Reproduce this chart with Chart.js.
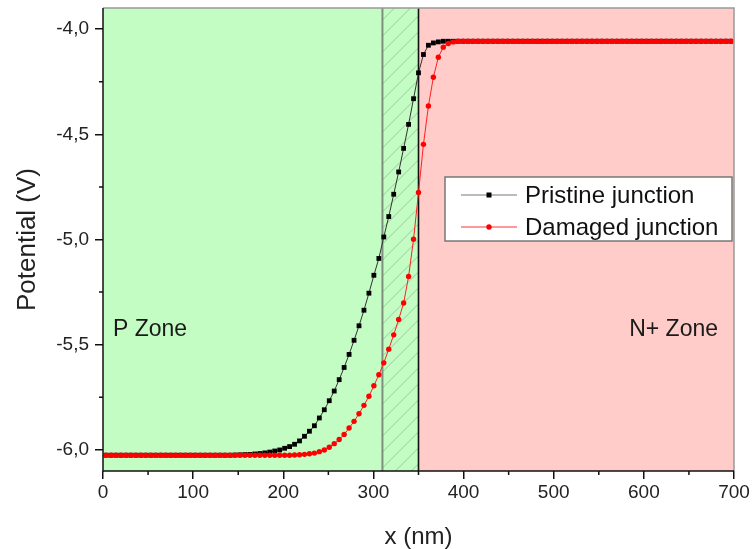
<!DOCTYPE html>
<html>
<head>
<meta charset="utf-8">
<script src="https://cdn.jsdelivr.net/npm/chart.js@4.4.1/dist/chart.umd.min.js"></script>
<style>
  html, body { margin: 0; padding: 0; background: #fff; }
  #wrap { width: 752px; height: 549px; }
</style>
</head>
<body>
<div id="wrap"><canvas id="potentialChart" width="752" height="549"></canvas></div>
<script>
const seriesNames = ["Pristine junction", "Damaged junction"];
const zoneNames = ["P Zone", "N+ Zone"];

// sampling grid of the simulation (nm)
const xStart = 3.5;
const xStep = 5.5;

// potential (V) at each sample
const pristine = [
  -6.025, -6.025, -6.025, -6.025, -6.025, -6.025, -6.025, -6.025, -6.025, -6.025,
  -6.025, -6.025, -6.025, -6.025, -6.025, -6.025, -6.025, -6.025, -6.025, -6.025,
  -6.025, -6.025, -6.025, -6.025, -6.025, -6.025, -6.024, -6.023, -6.022, -6.021,
  -6.019, -6.017, -6.014, -6.010, -6.005, -6.000, -5.992, -5.984, -5.973, -5.957,
  -5.935, -5.911, -5.885, -5.848, -5.809, -5.766, -5.720, -5.666, -5.608, -5.546,
  -5.479, -5.410, -5.336, -5.255, -5.170, -5.090, -4.988, -4.891, -4.785, -4.679,
  -4.567, -4.453, -4.331, -4.208, -4.121, -4.077, -4.066, -4.061, -4.058, -4.058,
  -4.058, -4.058, -4.058, -4.058, -4.058, -4.058, -4.058, -4.058, -4.058, -4.058,
  -4.058, -4.058, -4.058, -4.058, -4.058, -4.058, -4.058, -4.058, -4.058, -4.058,
  -4.058, -4.058, -4.058, -4.058, -4.058, -4.058, -4.058, -4.058, -4.058, -4.058,
  -4.058, -4.058, -4.058, -4.058, -4.058, -4.058, -4.058, -4.058, -4.058, -4.058,
  -4.058, -4.058, -4.058, -4.058, -4.058, -4.058, -4.058, -4.058, -4.058, -4.058,
  -4.058, -4.058, -4.058, -4.058, -4.058, -4.058, -4.058
];

const damaged = [
  -6.025, -6.025, -6.025, -6.025, -6.025, -6.025, -6.025, -6.025, -6.025, -6.025,
  -6.025, -6.025, -6.025, -6.025, -6.025, -6.025, -6.025, -6.025, -6.025, -6.025,
  -6.025, -6.025, -6.025, -6.025, -6.025, -6.025, -6.025, -6.025, -6.025, -6.025,
  -6.025, -6.025, -6.025, -6.025, -6.025, -6.025, -6.025, -6.025, -6.024, -6.023,
  -6.021, -6.018, -6.015, -6.008, -6.000, -5.987, -5.970, -5.950, -5.926, -5.896,
  -5.864, -5.828, -5.788, -5.745, -5.695, -5.643, -5.586, -5.521, -5.453, -5.380,
  -5.302, -5.176, -4.999, -4.777, -4.548, -4.366, -4.229, -4.134, -4.086, -4.069,
  -4.061, -4.058, -4.058, -4.058, -4.058, -4.058, -4.058, -4.058, -4.058, -4.058,
  -4.058, -4.058, -4.058, -4.058, -4.058, -4.058, -4.058, -4.058, -4.058, -4.058,
  -4.058, -4.058, -4.058, -4.058, -4.058, -4.058, -4.058, -4.058, -4.058, -4.058,
  -4.058, -4.058, -4.058, -4.058, -4.058, -4.058, -4.058, -4.058, -4.058, -4.058,
  -4.058, -4.058, -4.058, -4.058, -4.058, -4.058, -4.058, -4.058, -4.058, -4.058,
  -4.058, -4.058, -4.058, -4.058, -4.058, -4.058, -4.058
];

const yTicks = [-6.0, -5.5, -5.0, -4.5, -4.0];
const yMinorTicks = [-5.75, -5.25, -4.75, -4.25];
const xMinorTicks = [50, 150, 250, 350, 450, 550, 650];

const damagedStart = 310;   // start of hatched damaged layer (nm)
const junctionAt = 350;     // P / N+ boundary (nm)

const FONT = "'Liberation Sans', Arial, sans-serif";
const GREEN = "rgb(196, 253, 196)";
const PINK = "rgb(255, 204, 201)";

const toPoints = (arr) => arr.map((v, i) => ({ x: xStart + i * xStep, y: v }));

const zonePlugin = {
  id: "zones",
  beforeDatasetsDraw(chart) {
    const { ctx, chartArea: a, scales: { x } } = chart;
    const xj = x.getPixelForValue(junctionAt);
    const xd = x.getPixelForValue(damagedStart);
    const h = a.bottom - a.top;

    ctx.save();
    ctx.fillStyle = GREEN;
    ctx.fillRect(a.left, a.top, xj - a.left, h);
    ctx.fillStyle = PINK;
    ctx.fillRect(xj, a.top, a.right - xj, h);

    // hatched damaged layer
    ctx.save();
    ctx.beginPath();
    ctx.rect(xd, a.top, xj - xd, h);
    ctx.clip();
    ctx.strokeStyle = "rgba(120, 150, 120, 0.5)";
    ctx.lineWidth = 1;
    ctx.beginPath();
    const w = xj - xd;
    for (let yy = a.top - 20; yy < a.bottom + w + 20; yy += 16) {
      ctx.moveTo(xd, yy);
      ctx.lineTo(xj, yy - w);
    }
    ctx.stroke();
    ctx.restore();

    ctx.lineWidth = 2;
    ctx.strokeStyle = "#7f8f7f";
    ctx.beginPath();
    ctx.moveTo(xd, a.top);
    ctx.lineTo(xd, a.bottom);
    ctx.stroke();

    ctx.lineWidth = 1.6;
    ctx.strokeStyle = "#111";
    ctx.beginPath();
    ctx.moveTo(xj, a.top);
    ctx.lineTo(xj, a.bottom);
    ctx.stroke();

    ctx.fillStyle = "#1a1a1a";
    ctx.font = "23px " + FONT;
    ctx.textBaseline = "middle";
    ctx.textAlign = "left";
    ctx.fillText(zoneNames[0], a.left + 10, 330);
    ctx.textAlign = "right";
    ctx.fillText(zoneNames[1], a.right - 16, 330);
    ctx.restore();
  },
  afterDraw(chart) {
    const { ctx, chartArea: a, scales: { x, y } } = chart;
    ctx.save();
    // frame
    ctx.lineWidth = 1.5;
    ctx.strokeStyle = "#999";
    ctx.beginPath();
    ctx.moveTo(a.left, a.top);
    ctx.lineTo(a.right, a.top);
    ctx.lineTo(a.right, a.bottom);
    ctx.stroke();
    ctx.strokeStyle = "#111";
    ctx.beginPath();
    ctx.moveTo(a.left, a.top);
    ctx.lineTo(a.left, a.bottom);
    ctx.lineTo(a.right, a.bottom);
    ctx.stroke();

    // minor ticks
    ctx.lineWidth = 1.5;
    ctx.beginPath();
    yMinorTicks.forEach(v => {
      const py = y.getPixelForValue(v);
      ctx.moveTo(a.left - 4, py);
      ctx.lineTo(a.left, py);
    });
    xMinorTicks.forEach(v => {
      const px = x.getPixelForValue(v);
      ctx.moveTo(px, a.bottom);
      ctx.lineTo(px, a.bottom + 4);
    });
    ctx.stroke();

    // legend
    const bx = 445, by = 177, bw = 287, bh = 64;
    ctx.fillStyle = "#fff";
    ctx.fillRect(bx, by, bw, bh);
    ctx.lineWidth = 1.5;
    ctx.strokeStyle = "#777";
    ctx.strokeRect(bx, by, bw, bh);

    const rows = [
      { y: by + 18, line: "#777", mark: "#000", rect: true },
      { y: by + 50, line: "#ff3030", mark: "#ff0000", rect: false }
    ];
    rows.forEach((r, i) => {
      ctx.lineWidth = 1;
      ctx.strokeStyle = r.line;
      ctx.beginPath();
      ctx.moveTo(461, r.y);
      ctx.lineTo(517, r.y);
      ctx.stroke();
      ctx.fillStyle = r.mark;
      if (r.rect) {
        ctx.fillRect(486.5, r.y - 2.5, 5, 5);
      } else {
        ctx.beginPath();
        ctx.arc(489, r.y, 2.7, 0, Math.PI * 2);
        ctx.fill();
      }
      ctx.fillStyle = "#111";
      ctx.font = "24px " + FONT;
      ctx.textAlign = "left";
      ctx.textBaseline = "middle";
      ctx.fillText(seriesNames[i], 525, r.y + 1);
    });
    ctx.restore();
  }
};

const ctx = document.getElementById("potentialChart").getContext("2d");

const chart = new Chart(ctx, {
  type: "line",
  data: {
    datasets: [{
      label: seriesNames[0],
      data: toPoints(pristine),
      order: 1,
      borderColor: "#333",
      borderWidth: 1,
      pointStyle: "rect",
      pointRadius: 3.4,
      pointBackgroundColor: "#000",
      pointBorderWidth: 0,
      tension: 0
    }, {
      label: seriesNames[1],
      data: toPoints(damaged),
      order: 0,
      borderColor: "#ff2020",
      borderWidth: 1,
      pointStyle: "circle",
      pointRadius: 2.7,
      pointBackgroundColor: "#ff0000",
      pointBorderWidth: 0,
      tension: 0
    }]
  },
  options: {
    responsive: false,
    animation: false,
    devicePixelRatio: 1,
    layout: { padding: { top: 8, right: 18, left: 0, bottom: 0 } },
    plugins: {
      legend: { display: false },
      tooltip: { enabled: false }
    },
    scales: {
      x: {
        type: "linear",
        min: 0,
        max: 700,
        ticks: {
          stepSize: 100,
          color: "#222",
          font: { family: FONT, size: 19 },
          padding: 2,
          maxRotation: 0
        },
        grid: { drawOnChartArea: false, tickLength: 8, tickColor: "#111", lineWidth: 1.5 },
        border: { display: false },
        title: {
          display: true,
          text: "x (nm)",
          color: "#222",
          font: { family: FONT, size: 24, lineHeight: 1 },
          padding: { top: 0, bottom: 0 }
        },
        afterFit(scale) {
          scale.height = 78;
          scale.paddingLeft = 0;
          scale.paddingRight = 0;
        }
      },
      y: {
        type: "linear",
        min: -6.1,
        max: -3.9,
        afterBuildTicks(scale) { scale.ticks = yTicks.map(v => ({ value: v })); },
        ticks: {
          color: "#222",
          font: { family: FONT, size: 19 },
          padding: 6,
          callback: (v) => Number(v).toFixed(1).replace(".", ",")
        },
        grid: { drawOnChartArea: false, tickLength: 8, tickColor: "#111", lineWidth: 1.5 },
        border: { display: false },
        title: {
          display: true,
          text: "Potential (V)",
          color: "#222",
          font: { family: FONT, size: 26, lineHeight: 1 },
          padding: { top: 15, bottom: 0 }
        },
        afterFit(scale) {
          scale.width = 103;
          scale.paddingTop = 0;
          scale.paddingBottom = 0;
        }
      }
    }
  },
  plugins: [zonePlugin]
});
</script>
</body>
</html>
